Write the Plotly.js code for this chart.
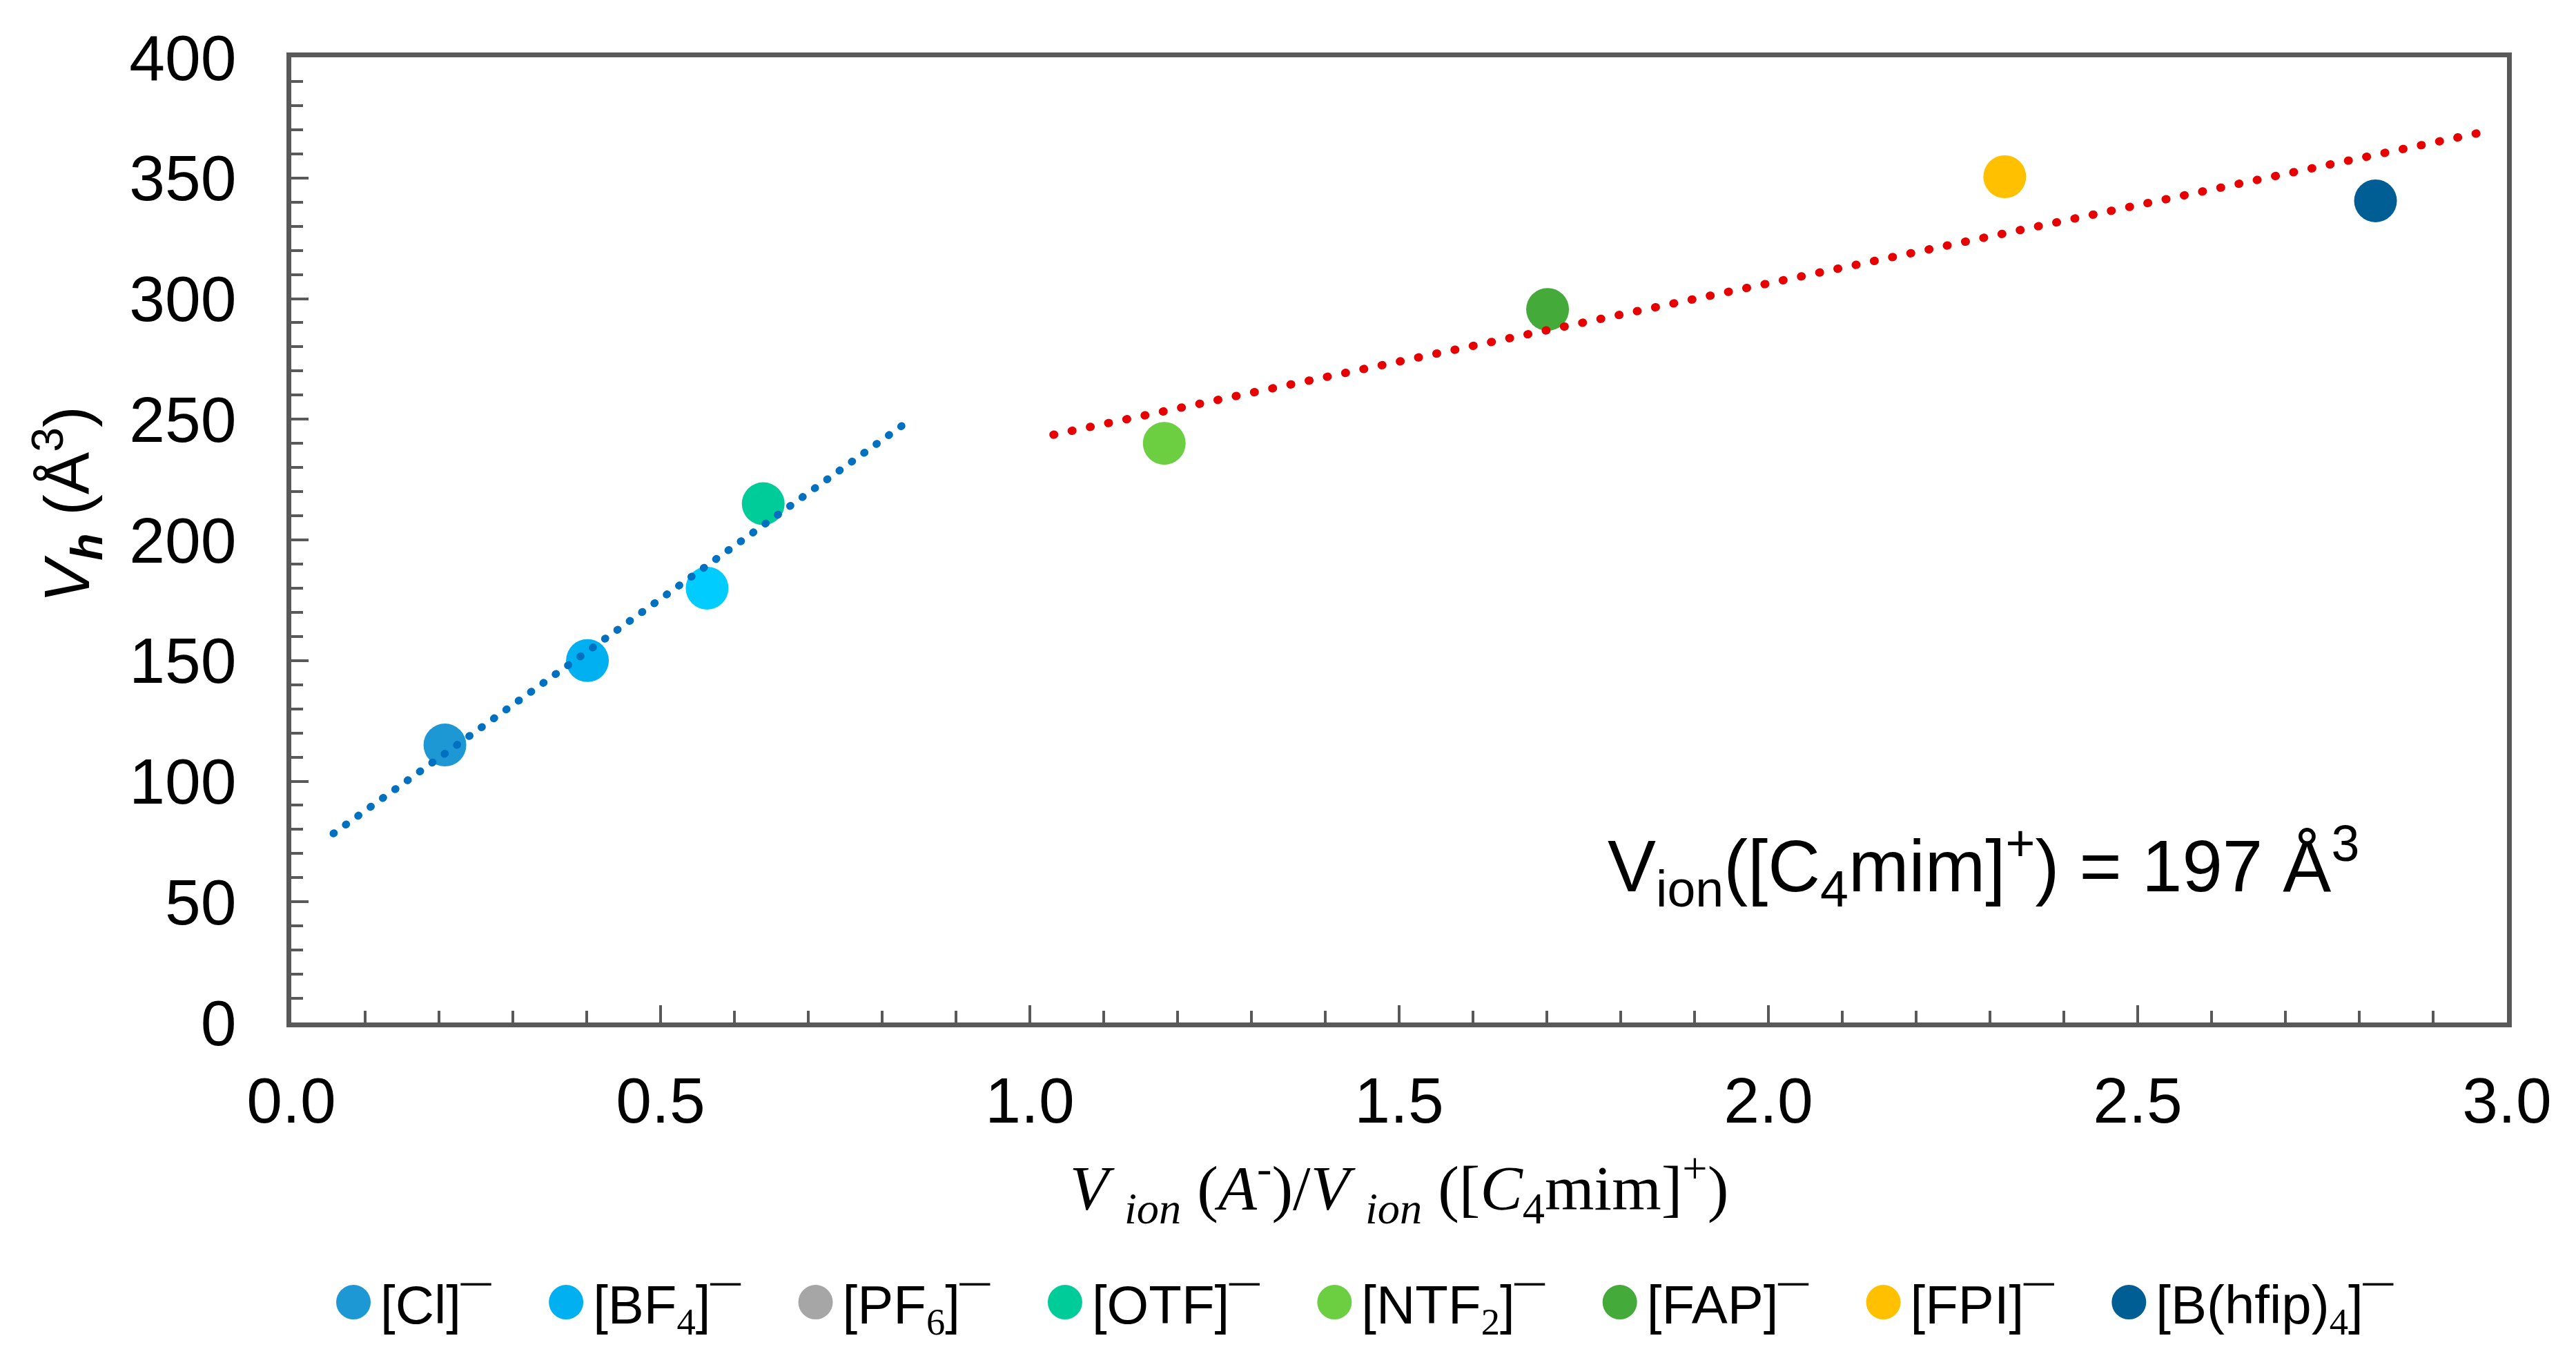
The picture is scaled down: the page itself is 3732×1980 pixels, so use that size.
<!DOCTYPE html>
<html>
<head>
<meta charset="utf-8">
<script src="https://cdn.plot.ly/plotly-3.0.1.min.js"></script>
<style>
  html, body { margin: 0; padding: 0; background: #ffffff; }
  #chart { width: 3732px; height: 1980px; }
  path.js-line { stroke-linecap: round; }
</style>
</head>
<body>
<div id="chart"></div>
<script>
// ---- data ----
const anionNames = [
  '[Cl]¯',
  '[BF<sub><span style="font-family:Liberation Serif">4</span></sub>]¯',
  '[PF<sub><span style="font-family:Liberation Serif">6</span></sub>]¯',
  '[OTF]¯',
  '[NTF<sub><span style="font-family:Liberation Serif">2</span></sub>]¯',
  '[FAP]¯',
  '[FPI]¯',
  '[B(hfip)<sub><span style="font-family:Liberation Serif">4</span></sub>]¯'
];
const volumeRatio = [0.208, 0.401, 0.563, 0.639, 1.182, 1.701, 2.320, 2.822];
const vh = [115, 150, 180, 215, 240, 295.5, 350.5, 340.5];
const markerColors = ['#1E98D5', '#00B0F0', '#00CCFF', '#00CC99', '#6CCF42', '#44AA3A', '#FFC000', '#005E95'];
const legendColors = ['#1E98D5', '#00B0F0', '#A6A6A6', '#00CC99', '#6CCF42', '#44AA3A', '#FFC000', '#005E95'];

const blueTrendX = [0.057, 0.83];
const blueTrendY = [78.3, 248];
const redTrendX = [1.032, 2.969];
const redTrendY = [243.6, 369.1];

const AXIS = '#595959';
const NB = '\u00a0';
const TAIL = NB + NB + NB;

const traces = anionNames.map((name, i) => ({
  type: 'scatter', mode: 'markers', name: name + TAIL,
  x: [volumeRatio[i]], y: [vh[i]],
  marker: { size: 62, color: markerColors[i], line: { width: 0 } },
  hoverinfo: 'skip', cliponaxis: false
}));

traces.push({
  type: 'scatter', mode: 'lines', x: blueTrendX, y: blueTrendY, showlegend: false,
  line: { color: '#0070C0', width: 11, dash: '1px,21px' }, hoverinfo: 'skip'
});
traces.push({
  type: 'scatter', mode: 'lines', x: redTrendX, y: redTrendY, showlegend: false,
  line: { color: '#E60000', width: 12, dash: '1px,26px' }, hoverinfo: 'skip'
});

const layout = {
  width: 3732, height: 1980,
  margin: { l: 422, r: 100, t: 83, b: 499 },
  paper_bgcolor: '#ffffff', plot_bgcolor: '#ffffff',
  font: { family: 'Liberation Sans, Arial, sans-serif', color: '#000000' },
  xaxis: {
    range: [0, 3], tick0: 0, dtick: 0.5, tickformat: '.1f',
    ticks: 'inside', ticklen: 25, tickwidth: 4, tickcolor: AXIS,
    minor: { dtick: 0.1, ticks: 'inside', ticklen: 17, tickwidth: 4, tickcolor: AXIS },
    showline: true, linecolor: AXIS, linewidth: 7, mirror: true,
    showgrid: false, zeroline: false,
    tickfont: { size: 93, family: 'Liberation Sans, Arial, sans-serif', color: '#000' },
    ticklabelstandoff: 26,
    title: {
      text: '<i>V</i> <sub><i>ion</i></sub> (<i>A</i><sup>-</sup>)/<i>V</i> <sub><i>ion</i></sub> ([<i>C</i><sub>4</sub>mim]<sup>+</sup>)',
      font: { size: 92, family: 'Liberation Serif, serif', color: '#000' },
      standoff: 46
    }
  },
  yaxis: {
    range: [0, 400], tick0: 0, dtick: 50,
    ticks: 'inside', ticklen: 25, tickwidth: 4, tickcolor: AXIS,
    minor: { dtick: 10, ticks: 'inside', ticklen: 17, tickwidth: 4, tickcolor: AXIS },
    showline: true, linecolor: AXIS, linewidth: 7, mirror: true,
    showgrid: false, zeroline: false,
    tickfont: { size: 93, family: 'Liberation Sans, Arial, sans-serif', color: '#000' },
    ticklabelstandoff: 54,
    title: { text: '' }
  },
  showlegend: true,
  legend: {
    orientation: 'h', x: 0.0159, xanchor: 'left', y: -0.29, yanchor: 'middle',
    font: { size: 78, family: 'Liberation Sans, Arial, sans-serif', color: '#000' },
    itemwidth: 68, bgcolor: 'rgba(0,0,0,0)', borderwidth: 0
  },
  annotations: [
    {
      xref: 'x', yref: 'y', x: 1.78, y: 64.7, xanchor: 'left', yanchor: 'middle',
      showarrow: false,
      text: 'V<sub>ion</sub>([C<sub>4</sub>mim]<sup>+</sup>) = 197 Å<sup>3</sup>',
      font: { size: 105, family: 'Liberation Sans, Arial, sans-serif', color: '#000' }
    },
    {
      xref: 'paper', yref: 'paper', x: -0.101, y: 0.537, xanchor: 'center', yanchor: 'middle',
      showarrow: false, textangle: -90,
      text: '<i>V</i><sub><b><i>h</i></b></sub> (Å<sup>3</sup>)',
      font: { size: 92, family: 'Liberation Sans, Arial, sans-serif', color: '#000' }
    }
  ]
};

Plotly.newPlot('chart', traces, layout, { displayModeBar: false, staticPlot: true }).then(gd => {
  const items = gd.querySelectorAll('.legend .traces');
  items.forEach((g, i) => {
    const p = g.querySelector('.legendpoints path.scatterpts');
    if (p) {
      p.setAttribute('d', 'M25,0A25,25 0 1,1 0,-25A25,25 0 0,1 25,0Z');
      p.style.fill = legendColors[i];
    }
  });
});
</script>
</body>
</html>
